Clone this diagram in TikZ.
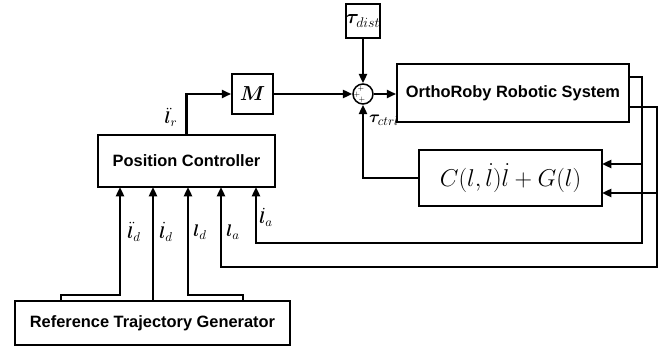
\documentclass[tikz,border=0pt]{standalone}
\usepackage{fontspec}
\usepackage{bm}
\setsansfont{Liberation Sans}
\usetikzlibrary{arrows.meta,calc,positioning}
\tikzset{
  blk/.style={draw, line width=1.5pt, inner sep=0pt,
    font=\sffamily\bfseries\fontsize{14}{16}\selectfont},
  sig/.style={-{Triangle[length=2.8mm,width=2.4mm]}, line width=2pt},
  lbl/.style={font=\fontsize{15}{16}\selectfont, inner sep=1pt},
  pls/.style={font=\fontsize{6}{6}\selectfont, inner sep=0pt}
}
\begin{document}
\begin{tikzpicture}[x=0.03cm, y=-0.03cm]
  \useasboundingbox (0,0) rectangle (662,347);
  % blocks
  \node[blk, minimum width=5.31cm, minimum height=1.56cm] (pc) at (186.5,161) {Position Controller};
  \node[blk, minimum width=1.23cm, minimum height=1.2cm, font=\fontsize{17}{17}\selectfont] (m) at (252.5,94) {$\bm{M}$};
  \node[blk, minimum width=1.02cm, minimum height=1.02cm, font=\fontsize{17}{17}\selectfont] (tau) at (363,21) {$\bm{\tau}_{dist}$};
  \node[draw, circle, line width=1.3pt, minimum size=0.6cm, inner sep=0pt] (sum) at (363,94) {};
  \node[pls] at ($(sum)+(-2,-5)$) {$+$};
  \node[pls] at ($(sum)+(-6,1)$) {$+$};
  \node[pls] at ($(sum)+(-1,6)$) {$+$};
  \node[blk, minimum width=6.96cm, minimum height=1.74cm] (orth) at (513,93) {OrthoRoby Robotic System};
  \node[blk, minimum width=5.49cm, minimum height=1.68cm, font=\fontsize{20.5}{21}\selectfont] (cg) at (510.5,178) {$C(l,\dot{l})\dot{l}+G(l)$};
  \node[blk, minimum width=8.25cm, minimum height=1.32cm] (rtg) at (152.5,323) {Reference Trajectory Generator};

  % corner points
  \coordinate (o1) at (629,77);
  \coordinate (o2) at (629,107);
  \coordinate (r1) at (642,243);
  \coordinate (r2) at (657,267);
  \coordinate (c1) at (602,164);
  \coordinate (c2) at (602,193);
  \coordinate (pa) at (221,187);
  \coordinate (pda) at (256,187);

  % forward path
  \draw[sig] (pc.north) |- (m.west);
  \node[lbl] at (171,117) {$\bm{\ddot{l}}_r$};
  \draw[sig] (m.east) -- (sum.west);
  \draw[sig] (tau.south) -- (sum.north);
  \draw[sig] (sum.east) -- (orth.west |- sum.east);
  \draw[sig] (cg.west) -| (sum.south);
  \node[lbl] at (384,120) {$\bm{\tau}_{ctrl}$};

  % feedback
  \draw[sig] (o1) -| (r1) -| (pda);
  \draw[sig] (o2) -| (r2) -| (pa);
  \draw[sig] (r1 |- c1) -- (c1);
  \draw[sig] (r2 |- c2) -- (c2);
  \node[lbl] at (266,217) {$\bm{\dot{l}}_a$};
  \node[lbl] at (233,232) {$\bm{l}_a$};

  % references
  \draw[sig] (rtg.north -| 61,0) |- (120,295) -- (120,187);
  \draw[sig] (rtg.north -| 153,0) -- (153,187);
  \draw[sig] (rtg.north -| 243,0) |- (188,295) -- (188,187);
  \node[lbl] at (134,232) {$\bm{\ddot{l}}_d$};
  \node[lbl] at (166,232) {$\bm{\dot{l}}_d$};
  \node[lbl] at (200,232) {$\bm{l}_d$};
\end{tikzpicture}
\end{document}
